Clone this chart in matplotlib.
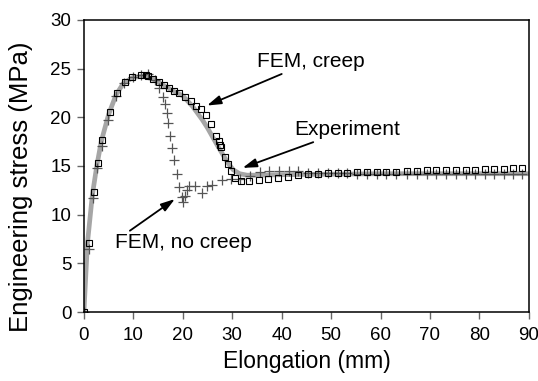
import numpy as np
import matplotlib.pyplot as plt

plt.rcParams['font.family'] = ['Liberation Sans', 'DejaVu Sans']

# Experiment (gray curve)
exp_elong = [0, 0.7, 1.7, 2.6, 3.5, 5.0, 6.5, 8.0, 10.0, 12.0, 14.0, 16.0, 18.0, 20.0,
             22.0, 24.0, 25.0, 27.0, 29.0, 30.2, 31.5, 33.0, 35.0, 40.0, 50.0, 60.0,
             70.0, 80.0, 90.0]
exp_stress = [0, 7.0, 12.0, 15.0, 17.5, 20.3, 22.3, 23.5, 24.1, 24.2, 23.9, 23.3, 22.7, 22.2,
              21.1, 19.7, 18.9, 17.1, 15.4, 14.6, 14.2, 14.05, 14.05, 14.1, 14.15, 14.2,
              14.2, 14.2, 14.2]

# FEM with creep (squares)
creep_elong = [0, 1.1, 2.0, 2.9, 3.7, 5.3, 6.7, 8.4, 9.8, 11.5, 12.5, 13.0, 14.0, 15.1,
               16.2, 17.2, 18.3, 19.3, 20.5, 21.6, 22.6, 23.7, 24.7, 25.8, 26.8, 27.3,
               27.6, 27.8, 28.5, 29.1, 29.7, 30.5, 31.8, 33.3, 35.4, 37.3, 39.3, 41.3,
               43.3, 45.4, 47.4, 49.4, 51.4, 53.3, 55.3, 57.3, 59.3, 61.2, 63.2, 65.3,
               67.3, 69.3, 71.3, 73.2, 75.2, 77.2, 79.1, 81.1, 83.0, 84.9, 86.8, 88.7]
creep_stress = [0, 7.1, 12.3, 15.3, 17.7, 20.5, 22.5, 23.6, 24.1, 24.3, 24.3, 24.25, 23.9, 23.6,
                23.3, 23.0, 22.7, 22.45, 22.1, 21.7, 21.2, 20.8, 20.2, 19.3, 18.1, 17.6,
                17.1, 16.9, 15.9, 15.2, 14.5, 13.8, 13.5, 13.5, 13.6, 13.7, 13.8, 13.9,
                14.05, 14.15, 14.2, 14.25, 14.3, 14.3, 14.35, 14.4, 14.4, 14.4, 14.4, 14.5,
                14.5, 14.55, 14.6, 14.6, 14.6, 14.6, 14.6, 14.65, 14.65, 14.7, 14.75, 14.75]

# FEM without creep (plus signs)
nocreep_elong = [0, 1.1, 1.9, 2.7, 3.6, 4.9, 6.5, 8.2, 10.0, 11.5, 13.0, 14.3, 15.1, 15.9,
                 16.4, 16.8, 17.0, 17.4, 17.8, 18.3, 18.8, 19.3, 19.8, 20.1, 20.4, 20.9,
                 21.3, 22.4, 23.8, 24.9, 26.0, 28.0, 29.8, 31.6, 33.5, 35.6, 37.5, 39.5,
                 41.4, 43.3, 45.4, 47.4, 49.4, 51.4, 53.3, 55.3, 57.3, 59.3, 61.2, 63.2,
                 65.3, 67.3, 69.3, 71.3, 73.2, 75.2, 77.2, 79.1, 81.1, 83.0, 84.9, 86.8, 88.7]
nocreep_stress = [0, 6.5, 11.7, 14.8, 17.0, 19.7, 22.2, 23.5, 24.1, 24.3, 24.4, 23.8, 23.0, 22.1,
                  21.4, 20.4, 19.4, 18.1, 16.8, 15.6, 14.2, 12.8, 11.8, 11.3, 11.9, 12.5,
                  12.9, 12.95, 12.2, 12.95, 13.05, 13.6, 13.7, 13.65, 14.0, 14.4, 14.5, 14.5,
                  14.45, 14.5, 14.3, 14.25, 14.25, 14.25, 14.25, 14.2, 14.2, 14.2, 14.2, 14.2,
                  14.2, 14.2, 14.2, 14.2, 14.2, 14.2, 14.2, 14.2, 14.2, 14.2, 14.2, 14.2, 14.2]

fig = plt.figure(figsize=(5.38, 3.81), dpi=100)
ax = fig.add_axes([0.156, 0.181, 0.827, 0.767])

ax.plot(exp_elong, exp_stress, color='#a6a6a6', lw=3.4, solid_capstyle='butt', zorder=1)
ax.plot(nocreep_elong, nocreep_stress, ls='none', marker='+', ms=7, mew=0.9,
        color='#555555', zorder=2)
ax.plot(creep_elong, creep_stress, ls='none', marker='s', ms=4.3, mew=0.8,
        mfc='none', mec='black', zorder=3)

arrow = dict(arrowstyle='-|>,head_length=0.7,head_width=0.22', color='black', lw=1.3,
             mutation_scale=12, shrinkA=0, shrinkB=0)
ax.annotate('FEM, creep', xy=(24.9, 21.2), xytext=(35.0, 25.7), fontsize=15,
            va='center', ha='left', arrowprops=arrow)
ax.annotate('Experiment', xy=(32.1, 14.8), xytext=(42.5, 18.7), fontsize=15,
            va='center', ha='left', arrowprops=arrow)
ax.annotate('', xy=(18.4, 11.6), xytext=(9.3, 8.35), arrowprops=arrow)
ax.text(6.3, 7.1, 'FEM, no creep', fontsize=15, va='center', ha='left')

ax.set_xlim(0, 90)
ax.set_ylim(0, 30)
ax.set_xticks(np.arange(0, 91, 10))
ax.set_yticks(np.arange(0, 31, 5))
ax.tick_params(direction='out', length=5, width=1, color='#666666', labelsize=13.5)
ax.tick_params(axis='x', pad=6)
ax.tick_params(axis='y', pad=4)
for sp in ax.spines.values():
    sp.set_linewidth(1.1)

ax.set_xlabel('Elongation (mm)', fontsize=16.5, labelpad=4)
ax.set_ylabel('Engineering stress (MPa)', fontsize=18.5)
ax.yaxis.set_label_coords(-0.115, 0.43)

fig.savefig('out.png', dpi=100)
